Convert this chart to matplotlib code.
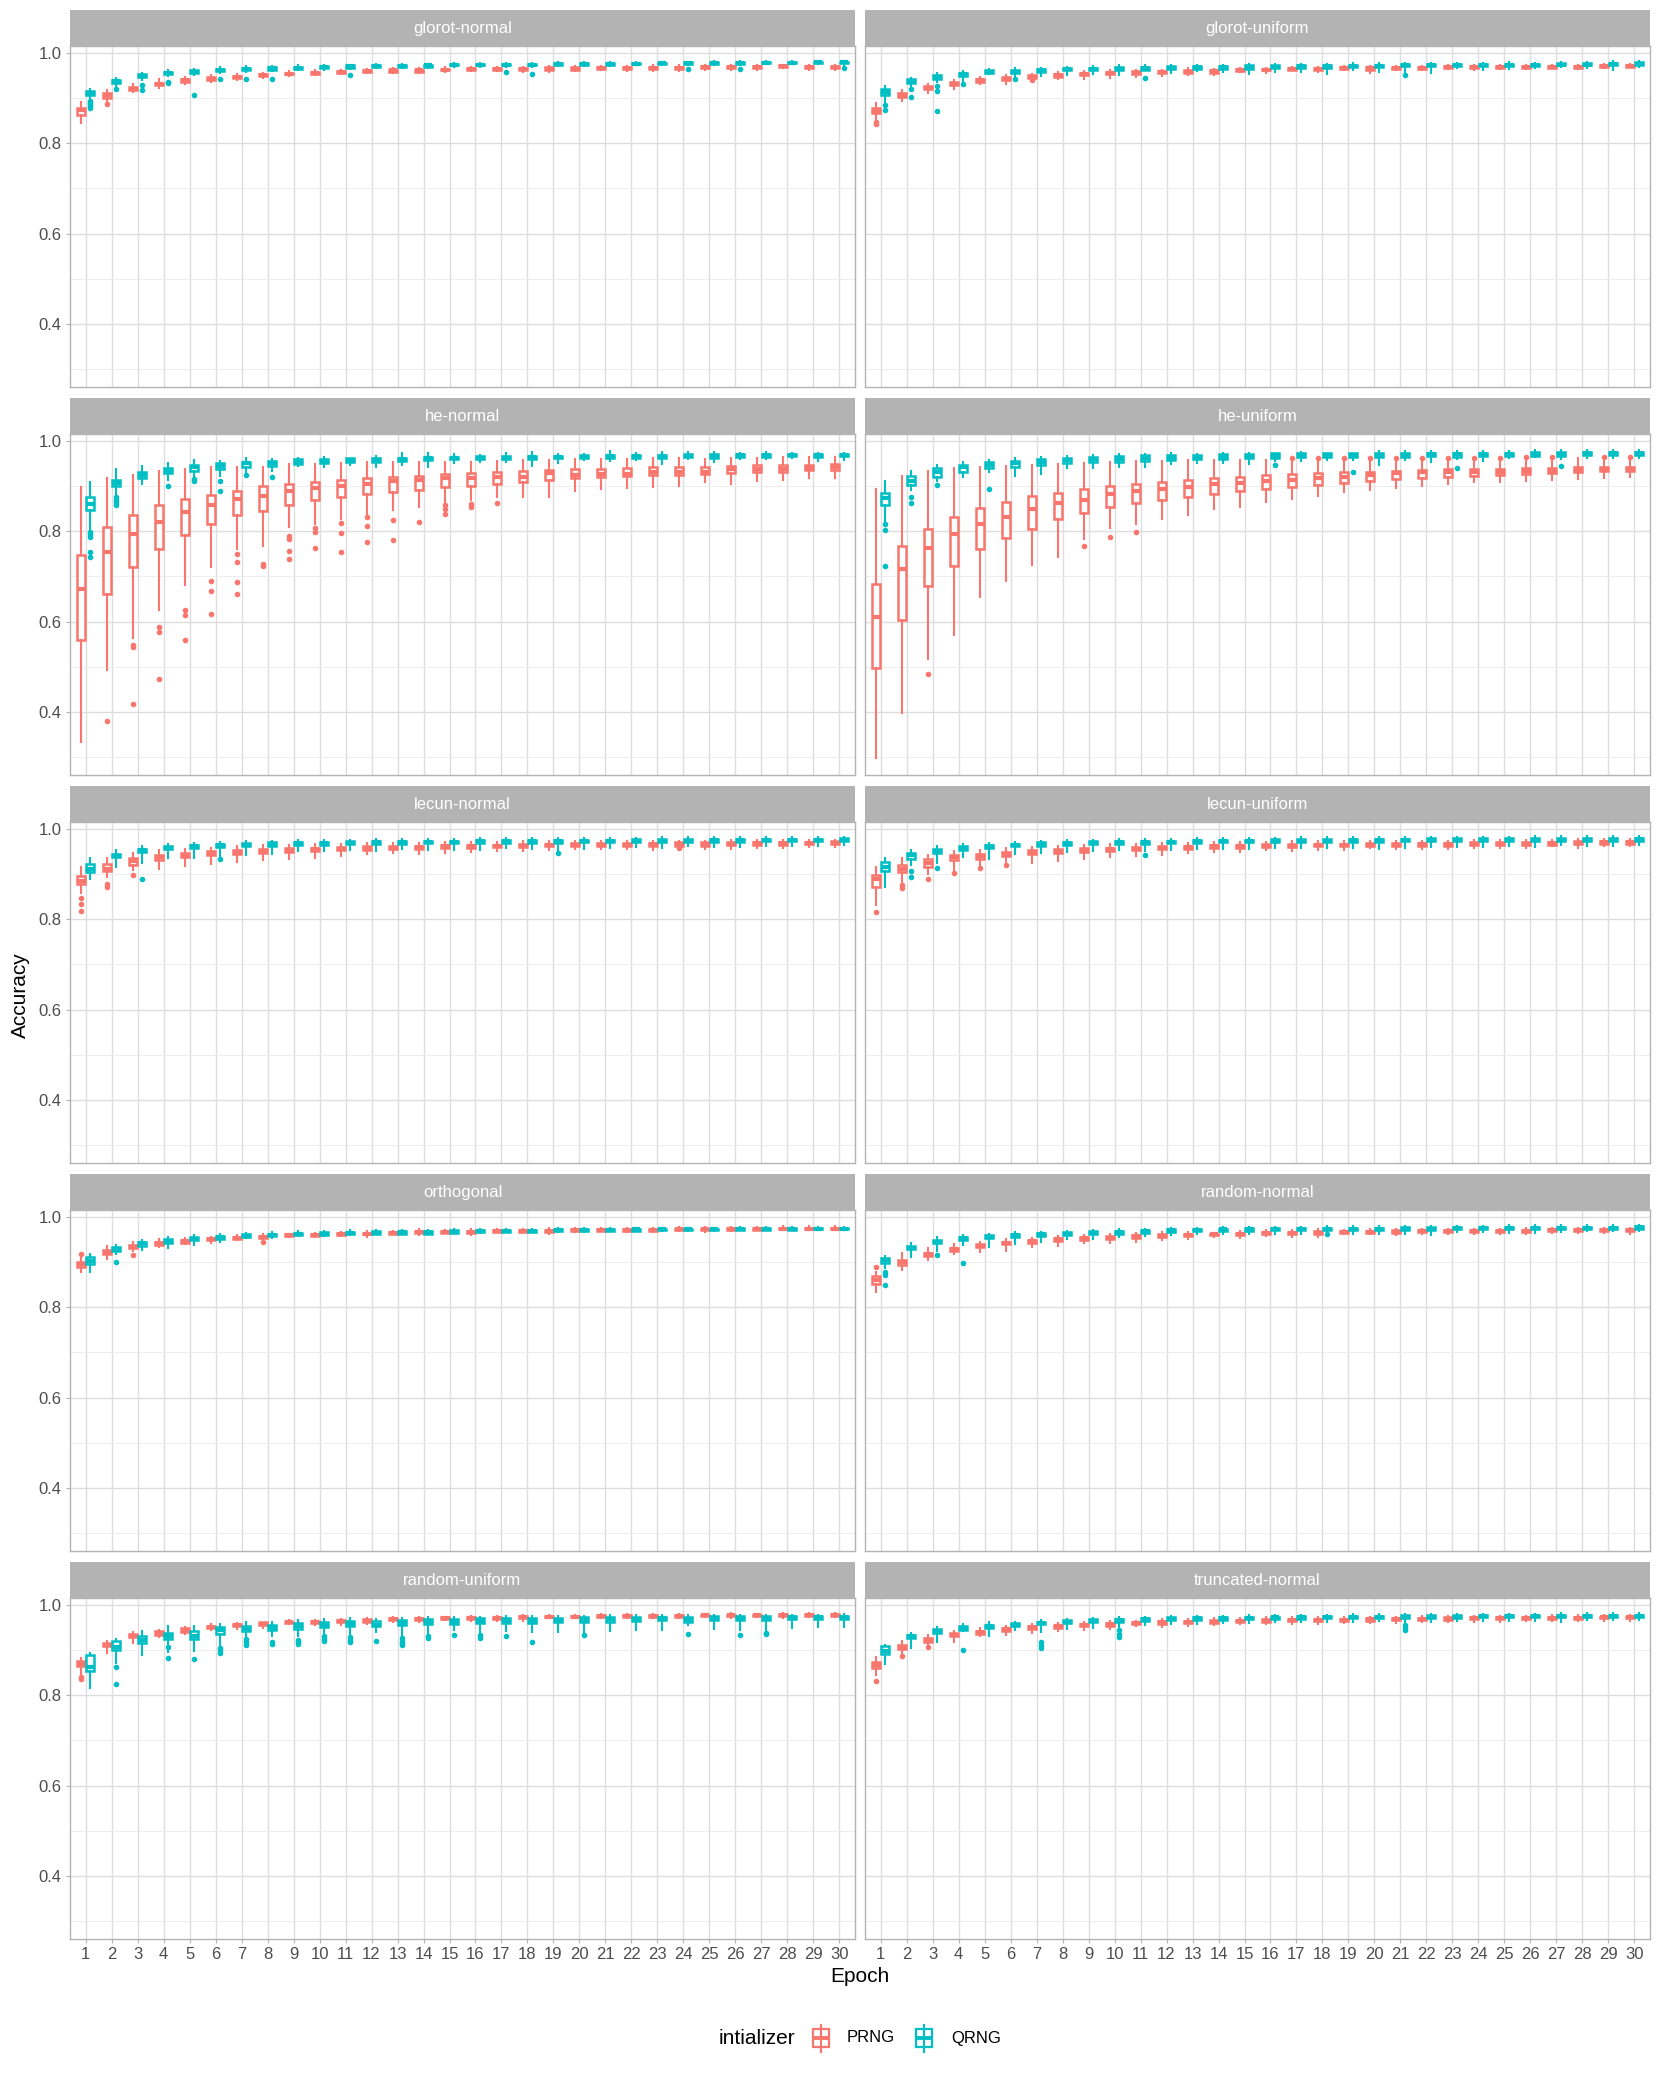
import numpy as np
import matplotlib
matplotlib.use("Agg")
import matplotlib.pyplot as plt
from matplotlib.patches import Rectangle
from matplotlib.lines import Line2D

plt.rcParams['font.family'] = ['Liberation Sans', 'DejaVu Sans']

# --- data: per epoch (whisker low, q1, median, q3, whisker high) ---
EPOCHS = np.arange(1, 31)
PANELS = ["glorot-normal", "glorot-uniform", "he-normal", "he-uniform",
          "lecun-normal", "lecun-uniform", "orthogonal", "random-normal",
          "random-uniform", "truncated-normal"]

GN_PRNG = [(0.845,0.862,0.874,0.878,0.892),(0.890,0.901,0.906,0.910,0.918),(0.913,0.918,0.921,0.925,0.931),(0.922,0.928,0.931,0.934,0.941),(0.931,0.936,0.939,0.942,0.946),
           (0.936,0.940,0.943,0.946,0.950),(0.940,0.944,0.946,0.949,0.952),(0.944,0.948,0.950,0.953,0.956),(0.948,0.952,0.954,0.956,0.959),(0.950,0.954,0.956,0.958,0.961),
           (0.952,0.955,0.957,0.959,0.962),(0.955,0.958,0.960,0.962,0.964),(0.955,0.958,0.961,0.963,0.966),(0.955,0.958,0.961,0.963,0.966),(0.958,0.961,0.963,0.965,0.968),
           (0.960,0.963,0.965,0.967,0.969),(0.959,0.962,0.965,0.967,0.969),(0.958,0.962,0.965,0.967,0.969),(0.958,0.963,0.965,0.968,0.970),(0.959,0.963,0.965,0.968,0.970),
           (0.961,0.965,0.967,0.969,0.971),(0.960,0.965,0.967,0.969,0.971),(0.960,0.965,0.967,0.969,0.972),(0.960,0.965,0.967,0.969,0.972),(0.962,0.966,0.968,0.970,0.972),
           (0.962,0.967,0.969,0.971,0.973),(0.963,0.967,0.969,0.971,0.974),(0.967,0.969,0.971,0.972,0.974),(0.963,0.967,0.969,0.971,0.974),(0.961,0.967,0.969,0.971,0.974)]
GN_QRNG = [(0.897,0.907,0.912,0.916,0.921),(0.925,0.933,0.937,0.940,0.945),(0.940,0.946,0.949,0.952,0.956),(0.948,0.953,0.955,0.958,0.962),(0.950,0.956,0.958,0.961,0.964),
           (0.955,0.960,0.962,0.965,0.968),(0.957,0.963,0.965,0.967,0.970),(0.960,0.963,0.966,0.968,0.971),(0.962,0.965,0.967,0.969,0.972),(0.963,0.966,0.969,0.971,0.973),
           (0.964,0.967,0.970,0.972,0.974),(0.966,0.969,0.971,0.973,0.975),(0.966,0.969,0.971,0.973,0.975),(0.966,0.969,0.972,0.974,0.976),(0.969,0.972,0.974,0.976,0.977),
           (0.969,0.972,0.974,0.976,0.977),(0.968,0.972,0.974,0.976,0.977),(0.969,0.972,0.974,0.976,0.977),(0.971,0.973,0.975,0.977,0.979),(0.971,0.974,0.976,0.977,0.979),
           (0.971,0.974,0.976,0.977,0.979),(0.972,0.975,0.976,0.978,0.979),(0.972,0.975,0.977,0.978,0.980),(0.973,0.976,0.977,0.979,0.980),(0.974,0.976,0.978,0.979,0.981),
           (0.973,0.976,0.978,0.979,0.981),(0.975,0.977,0.978,0.979,0.981),(0.975,0.977,0.978,0.980,0.981),(0.975,0.977,0.979,0.980,0.981),(0.972,0.977,0.979,0.980,0.982)]
GN_PRNG_OUT = [(2,0.886)]
GN_QRNG_OUT = [(1,0.894),(1,0.890),(1,0.886),(1,0.882),(1,0.878),(2,0.919),(3,0.929),(3,0.918),(4,0.936),(4,0.933),(5,0.907),
               (6,0.942),(7,0.941),(8,0.943),(11,0.951),(17,0.958),(18,0.954),(24,0.965),(26,0.965),(30,0.967)]

GU_PRNG = [(0.853,0.866,0.872,0.878,0.889),(0.894,0.902,0.906,0.910,0.918),(0.912,0.920,0.923,0.926,0.932),(0.921,0.929,0.932,0.936,0.940),(0.930,0.936,0.940,0.943,0.947),
           (0.932,0.939,0.942,0.946,0.950),(0.942,0.944,0.947,0.950,0.953),(0.941,0.947,0.950,0.953,0.957),(0.942,0.950,0.953,0.955,0.960),(0.944,0.952,0.955,0.958,0.961),
           (0.946,0.953,0.956,0.959,0.962),(0.948,0.955,0.958,0.960,0.963),(0.950,0.956,0.958,0.962,0.966),(0.950,0.956,0.959,0.961,0.964),(0.958,0.960,0.962,0.964,0.966),
           (0.956,0.961,0.963,0.965,0.967),(0.961,0.962,0.964,0.966,0.968),(0.958,0.962,0.964,0.966,0.968),(0.961,0.964,0.966,0.968,0.970),(0.955,0.963,0.966,0.968,0.971),
           (0.963,0.965,0.967,0.969,0.971),(0.962,0.965,0.967,0.969,0.971),(0.964,0.966,0.968,0.970,0.972),(0.962,0.966,0.968,0.970,0.972),(0.965,0.967,0.969,0.971,0.973),
           (0.965,0.967,0.969,0.971,0.973),(0.966,0.967,0.969,0.971,0.973),(0.965,0.967,0.969,0.971,0.973),(0.966,0.968,0.970,0.972,0.975),(0.968,0.969,0.971,0.973,0.975)]
GU_QRNG = [(0.888,0.907,0.913,0.920,0.926),(0.925,0.934,0.938,0.941,0.945),(0.935,0.941,0.946,0.950,0.955),(0.938,0.949,0.952,0.955,0.960),(0.952,0.955,0.958,0.961,0.964),
           (0.946,0.955,0.958,0.962,0.966),(0.949,0.957,0.961,0.964,0.967),(0.951,0.961,0.964,0.966,0.969),(0.952,0.961,0.964,0.967,0.970),(0.950,0.962,0.965,0.968,0.972),
           (0.961,0.963,0.966,0.969,0.972),(0.955,0.964,0.967,0.970,0.973),(0.960,0.965,0.968,0.970,0.973),(0.957,0.965,0.968,0.971,0.974),(0.953,0.965,0.968,0.972,0.975),
           (0.958,0.966,0.969,0.972,0.975),(0.958,0.967,0.970,0.972,0.975),(0.952,0.967,0.970,0.973,0.976),(0.962,0.969,0.971,0.974,0.977),(0.957,0.969,0.971,0.974,0.977),
           (0.955,0.970,0.972,0.975,0.978),(0.955,0.970,0.972,0.975,0.978),(0.966,0.970,0.973,0.975,0.978),(0.963,0.970,0.973,0.975,0.978),(0.965,0.971,0.974,0.976,0.980),
           (0.967,0.971,0.973,0.976,0.978),(0.969,0.972,0.974,0.977,0.979),(0.966,0.972,0.974,0.977,0.979),(0.963,0.972,0.975,0.978,0.981),(0.969,0.973,0.976,0.979,0.982)]
GU_PRNG_OUT = [(1,0.847),(1,0.843),(7,0.939)]
GU_QRNG_OUT = [(1,0.884),(1,0.874),(2,0.921),(2,0.903),(3,0.926),(3,0.916),(3,0.871),(4,0.932),(6,0.943),(11,0.945),(21,0.951)]

HN_PRNG = [(0.333,0.559,0.673,0.748,0.897),(0.494,0.662,0.755,0.809,0.918),(0.563,0.722,0.793,0.836,0.925),(0.625,0.761,0.821,0.858,0.934),(0.681,0.792,0.842,0.871,0.937),
           (0.720,0.815,0.858,0.881,0.941),(0.761,0.835,0.871,0.890,0.943),(0.767,0.845,0.879,0.899,0.943),(0.809,0.858,0.890,0.905,0.949),(0.816,0.869,0.896,0.908,0.949),
           (0.827,0.875,0.899,0.914,0.950),(0.835,0.882,0.904,0.918,0.952),(0.846,0.886,0.910,0.919,0.954),(0.853,0.891,0.913,0.923,0.954),(0.864,0.897,0.917,0.926,0.954),
           (0.869,0.901,0.917,0.928,0.954),(0.875,0.905,0.919,0.932,0.956),(0.876,0.909,0.920,0.933,0.957),(0.875,0.913,0.928,0.936,0.957),(0.890,0.918,0.925,0.938,0.960),
           (0.893,0.920,0.926,0.938,0.960),(0.895,0.922,0.927,0.940,0.960),(0.897,0.924,0.932,0.941,0.961),(0.899,0.925,0.930,0.942,0.961),(0.908,0.927,0.932,0.943,0.960),
           (0.904,0.929,0.937,0.944,0.963),(0.912,0.931,0.937,0.946,0.963),(0.913,0.932,0.937,0.946,0.965),(0.918,0.935,0.939,0.947,0.965),(0.918,0.935,0.941,0.949,0.965)]
HN_QRNG = [(0.805,0.846,0.860,0.875,0.908),(0.883,0.899,0.906,0.913,0.937),(0.904,0.917,0.924,0.932,0.945),(0.913,0.928,0.934,0.940,0.951),(0.919,0.934,0.941,0.946,0.957),
           (0.923,0.937,0.945,0.951,0.956),(0.930,0.943,0.950,0.954,0.961),(0.934,0.945,0.951,0.955,0.960),(0.945,0.948,0.954,0.959,0.963),(0.941,0.951,0.956,0.960,0.965),
           (0.947,0.952,0.957,0.961,0.963),(0.943,0.954,0.958,0.962,0.967),(0.947,0.956,0.960,0.963,0.973),(0.941,0.957,0.961,0.965,0.972),(0.951,0.959,0.962,0.965,0.971),
           (0.954,0.960,0.963,0.966,0.969),(0.952,0.960,0.963,0.966,0.972),(0.945,0.960,0.964,0.967,0.975),(0.950,0.961,0.964,0.967,0.971),(0.958,0.962,0.965,0.968,0.971),
           (0.956,0.963,0.966,0.969,0.978),(0.958,0.963,0.966,0.969,0.973),(0.949,0.962,0.966,0.969,0.976),(0.960,0.964,0.967,0.970,0.976),(0.954,0.963,0.967,0.970,0.976),
           (0.960,0.965,0.968,0.971,0.974),(0.959,0.965,0.968,0.971,0.975),(0.961,0.966,0.968,0.971,0.974),(0.956,0.965,0.968,0.971,0.974),(0.958,0.966,0.969,0.971,0.974)]
HN_PRNG_OUT = [(2,0.381),(3,0.548),(3,0.544),(3,0.419),(4,0.588),(4,0.577),(4,0.474),(5,0.626),(5,0.614),(5,0.560),
               (6,0.690),(6,0.668),(6,0.616),(7,0.750),(7,0.732),(7,0.688),(7,0.662),(8,0.728),(8,0.724),
               (9,0.790),(9,0.783),(9,0.757),(9,0.739),(10,0.807),(10,0.798),(10,0.763),(11,0.818),(11,0.797),(11,0.754),
               (12,0.831),(12,0.812),(12,0.777),(13,0.825),(13,0.781),(14,0.820),(15,0.859),(15,0.849),(15,0.838),
               (16,0.860),(16,0.854),(17,0.862)]
HN_QRNG_OUT = [(1,0.799),(1,0.794),(1,0.787),(1,0.754),(1,0.744),(2,0.875),(2,0.869),(2,0.864),(2,0.859),(4,0.901),
               (5,0.915),(5,0.912),(6,0.910),(6,0.890),(7,0.925),(8,0.919)]

HU_PRNG = [(0.298,0.498,0.610,0.684,0.893),(0.397,0.603,0.717,0.767,0.923),(0.518,0.680,0.763,0.804,0.934),(0.570,0.724,0.794,0.831,0.939),(0.654,0.760,0.815,0.851,0.941),
           (0.689,0.785,0.832,0.864,0.945),(0.726,0.805,0.849,0.877,0.946),(0.744,0.826,0.862,0.884,0.949),(0.783,0.840,0.870,0.893,0.951),(0.807,0.854,0.882,0.899,0.952),
           (0.816,0.862,0.888,0.904,0.956),(0.826,0.870,0.893,0.909,0.956),(0.836,0.876,0.897,0.913,0.957),(0.849,0.882,0.904,0.918,0.957),(0.854,0.889,0.907,0.921,0.957),
           (0.864,0.894,0.912,0.925,0.957),(0.871,0.898,0.913,0.926,0.958),(0.877,0.903,0.918,0.929,0.958),(0.886,0.907,0.921,0.930,0.959),(0.891,0.911,0.925,0.932,0.959),
           (0.896,0.915,0.928,0.933,0.960),(0.899,0.918,0.932,0.935,0.960),(0.904,0.920,0.932,0.937,0.958),(0.908,0.922,0.932,0.937,0.960),(0.908,0.924,0.931,0.937,0.960),
           (0.912,0.927,0.934,0.940,0.960),(0.914,0.928,0.934,0.940,0.961),(0.915,0.930,0.936,0.942,0.961),(0.918,0.933,0.938,0.943,0.961),(0.919,0.933,0.938,0.943,0.962)]
HU_QRNG = [(0.818,0.858,0.873,0.885,0.910),(0.891,0.903,0.910,0.923,0.934),(0.912,0.921,0.930,0.939,0.946),(0.919,0.932,0.941,0.947,0.954),(0.930,0.940,0.947,0.952,0.957),
           (0.923,0.943,0.950,0.956,0.961),(0.926,0.947,0.954,0.960,0.965),(0.939,0.951,0.957,0.963,0.967),(0.939,0.954,0.959,0.965,0.968),(0.943,0.954,0.960,0.966,0.971),
           (0.943,0.955,0.961,0.968,0.971),(0.949,0.958,0.962,0.968,0.972),(0.951,0.959,0.963,0.969,0.971),(0.951,0.960,0.965,0.970,0.974),(0.949,0.962,0.966,0.971,0.974),
           (0.956,0.963,0.967,0.972,0.974),(0.956,0.964,0.968,0.972,0.976),(0.957,0.965,0.969,0.972,0.974),(0.957,0.964,0.968,0.972,0.974),(0.947,0.964,0.969,0.974,0.978),
           (0.957,0.965,0.969,0.974,0.978),(0.952,0.966,0.970,0.974,0.978),(0.960,0.965,0.970,0.974,0.978),(0.956,0.966,0.970,0.974,0.978),(0.962,0.966,0.970,0.974,0.978),
           (0.964,0.967,0.971,0.975,0.979),(0.960,0.967,0.971,0.975,0.979),(0.963,0.968,0.972,0.975,0.979),(0.962,0.968,0.972,0.975,0.979),(0.963,0.968,0.972,0.975,0.979)]
HU_PRNG_OUT = [(3,0.484),(9,0.768),(10,0.787),(11,0.799),(17,0.961),(18,0.961),(19,0.962),(20,0.962),(21,0.963),(22,0.963),
               (23,0.962),(24,0.963),(25,0.963),(26,0.964),(27,0.964),(29,0.964),(30,0.965)]
HU_QRNG_OUT = [(1,0.815),(1,0.803),(1,0.723),(2,0.875),(2,0.862),(3,0.902),(5,0.893),(16,0.946),(19,0.930),(23,0.939),(27,0.945)]

LN_PRNG = [(0.857,0.879,0.884,0.896,0.916),(0.894,0.907,0.911,0.923,0.935),(0.909,0.921,0.928,0.935,0.947),(0.912,0.931,0.937,0.942,0.952),(0.917,0.937,0.943,0.947,0.955),
           (0.922,0.941,0.946,0.950,0.958),(0.926,0.944,0.949,0.953,0.962),(0.930,0.946,0.950,0.955,0.964),(0.933,0.949,0.953,0.957,0.965),(0.935,0.951,0.955,0.958,0.966),
           (0.940,0.952,0.956,0.960,0.967),(0.944,0.954,0.957,0.961,0.968),(0.946,0.955,0.958,0.962,0.968),(0.945,0.956,0.959,0.963,0.969),(0.947,0.957,0.961,0.964,0.970),
           (0.948,0.958,0.962,0.965,0.971),(0.950,0.960,0.962,0.965,0.971),(0.951,0.960,0.963,0.967,0.972),(0.952,0.961,0.964,0.967,0.972),(0.955,0.962,0.965,0.968,0.973),
           (0.955,0.962,0.965,0.968,0.973),(0.955,0.962,0.965,0.969,0.973),(0.953,0.962,0.966,0.969,0.974),(0.953,0.963,0.966,0.970,0.974),(0.956,0.963,0.967,0.970,0.974),
           (0.956,0.964,0.967,0.970,0.975),(0.957,0.965,0.968,0.971,0.975),(0.957,0.965,0.968,0.971,0.975),(0.959,0.966,0.968,0.971,0.975),(0.959,0.966,0.969,0.972,0.975)]
LN_QRNG = [(0.890,0.905,0.912,0.923,0.935),(0.916,0.937,0.940,0.945,0.952),(0.924,0.948,0.952,0.955,0.961),(0.935,0.955,0.958,0.961,0.966),(0.935,0.958,0.962,0.964,0.969),
           (0.937,0.960,0.964,0.966,0.970),(0.943,0.961,0.965,0.968,0.972),(0.944,0.963,0.967,0.970,0.974),(0.951,0.965,0.968,0.971,0.975),(0.950,0.965,0.969,0.971,0.975),
           (0.953,0.966,0.969,0.972,0.976),(0.951,0.967,0.970,0.973,0.977),(0.955,0.967,0.970,0.973,0.977),(0.952,0.968,0.971,0.974,0.978),(0.953,0.968,0.971,0.974,0.978),
           (0.954,0.969,0.972,0.975,0.979),(0.957,0.969,0.972,0.976,0.979),(0.956,0.969,0.972,0.976,0.979),(0.952,0.969,0.973,0.976,0.980),(0.956,0.970,0.973,0.976,0.980),
           (0.958,0.970,0.973,0.976,0.980),(0.959,0.970,0.974,0.977,0.980),(0.958,0.971,0.974,0.977,0.981),(0.961,0.971,0.974,0.977,0.981),(0.960,0.971,0.975,0.978,0.981),
           (0.959,0.971,0.975,0.978,0.981),(0.961,0.972,0.975,0.978,0.982),(0.963,0.972,0.975,0.978,0.982),(0.961,0.972,0.975,0.978,0.982),(0.964,0.973,0.976,0.979,0.982)]
LN_PRNG_OUT = [(1,0.847),(1,0.833),(1,0.818),(2,0.879),(2,0.872),(3,0.898),(24,0.957)]
LN_QRNG_OUT = [(3,0.888),(6,0.933),(19,0.946)]

LU_PRNG = [(0.831,0.872,0.888,0.898,0.915),(0.879,0.904,0.910,0.921,0.935),(0.900,0.916,0.924,0.934,0.943),(0.907,0.931,0.937,0.941,0.950),(0.914,0.934,0.940,0.945,0.953),
           (0.925,0.940,0.945,0.949,0.957),(0.925,0.944,0.948,0.952,0.960),(0.929,0.946,0.950,0.955,0.962),(0.934,0.949,0.953,0.957,0.964),(0.937,0.951,0.955,0.958,0.966),
           (0.939,0.952,0.956,0.960,0.967),(0.943,0.955,0.958,0.962,0.968),(0.946,0.956,0.960,0.963,0.969),(0.948,0.957,0.961,0.964,0.970),(0.949,0.958,0.961,0.965,0.971),
           (0.952,0.959,0.962,0.966,0.971),(0.951,0.960,0.963,0.966,0.972),(0.953,0.961,0.964,0.967,0.972),(0.953,0.961,0.964,0.967,0.973),(0.957,0.962,0.965,0.968,0.973),
           (0.956,0.962,0.965,0.969,0.974),(0.955,0.962,0.966,0.969,0.974),(0.956,0.962,0.966,0.969,0.974),(0.958,0.964,0.967,0.970,0.975),(0.958,0.964,0.967,0.970,0.975),
           (0.957,0.964,0.967,0.970,0.975),(0.961,0.965,0.968,0.971,0.976),(0.958,0.966,0.969,0.972,0.977),(0.962,0.967,0.970,0.973,0.977),(0.961,0.967,0.970,0.973,0.978)]
LU_QRNG = [(0.872,0.906,0.916,0.927,0.936),(0.920,0.934,0.941,0.947,0.954),(0.925,0.946,0.950,0.955,0.963),(0.938,0.954,0.958,0.961,0.966),(0.934,0.958,0.962,0.964,0.969),
           (0.944,0.961,0.964,0.967,0.971),(0.947,0.963,0.967,0.970,0.974),(0.949,0.965,0.968,0.971,0.975),(0.951,0.966,0.969,0.972,0.976),(0.952,0.967,0.970,0.973,0.977),
           (0.950,0.967,0.970,0.973,0.977),(0.954,0.968,0.971,0.974,0.978),(0.955,0.969,0.972,0.975,0.979),(0.956,0.970,0.973,0.976,0.979),(0.955,0.970,0.973,0.976,0.979),
           (0.957,0.970,0.973,0.977,0.980),(0.957,0.971,0.974,0.977,0.981),(0.958,0.971,0.974,0.977,0.981),(0.958,0.971,0.975,0.978,0.981),(0.956,0.971,0.975,0.978,0.981),
           (0.957,0.972,0.975,0.978,0.982),(0.959,0.972,0.975,0.979,0.982),(0.960,0.972,0.975,0.979,0.982),(0.960,0.973,0.976,0.979,0.982),(0.961,0.973,0.976,0.979,0.982),
           (0.960,0.973,0.976,0.979,0.983),(0.964,0.973,0.976,0.979,0.983),(0.962,0.973,0.976,0.979,0.983),(0.963,0.973,0.976,0.979,0.983),(0.965,0.974,0.977,0.980,0.983)]
LU_PRNG_OUT = [(1,0.816),(2,0.876),(2,0.868),(3,0.890),(4,0.903),(5,0.913),(6,0.920)]
LU_QRNG_OUT = [(2,0.907),(2,0.894),(3,0.914),(11,0.942)]

OR_PRNG = [(0.877,0.890,0.895,0.901,0.912),(0.907,0.917,0.922,0.926,0.935),(0.924,0.931,0.934,0.937,0.944),(0.933,0.937,0.941,0.945,0.950),(0.940,0.943,0.946,0.949,0.953),
           (0.942,0.948,0.950,0.953,0.956),(0.948,0.951,0.953,0.956,0.960),(0.948,0.953,0.955,0.958,0.961),(0.955,0.957,0.959,0.961,0.963),(0.956,0.958,0.960,0.962,0.965),
           (0.958,0.960,0.962,0.965,0.967),(0.955,0.961,0.963,0.965,0.968),(0.961,0.962,0.964,0.966,0.968),(0.960,0.964,0.966,0.968,0.973),(0.964,0.965,0.967,0.969,0.971),
           (0.960,0.965,0.967,0.969,0.972),(0.966,0.967,0.969,0.971,0.973),(0.966,0.967,0.969,0.971,0.973),(0.963,0.967,0.969,0.971,0.975),(0.967,0.968,0.970,0.973,0.976),
           (0.968,0.969,0.971,0.973,0.975),(0.966,0.969,0.971,0.973,0.976),(0.966,0.969,0.971,0.973,0.976),(0.968,0.970,0.972,0.974,0.977),(0.966,0.970,0.972,0.974,0.977),
           (0.968,0.971,0.973,0.975,0.978),(0.970,0.971,0.973,0.975,0.977),(0.970,0.972,0.974,0.976,0.979),(0.970,0.972,0.974,0.976,0.979),(0.970,0.972,0.974,0.976,0.979)]
OR_QRNG = [(0.879,0.896,0.903,0.910,0.918),(0.917,0.924,0.929,0.933,0.937),(0.926,0.936,0.941,0.944,0.949),(0.932,0.943,0.947,0.951,0.956),(0.938,0.948,0.951,0.955,0.960),
           (0.945,0.951,0.955,0.958,0.962),(0.952,0.955,0.958,0.961,0.964),(0.952,0.957,0.960,0.963,0.966),(0.957,0.959,0.962,0.965,0.968),(0.958,0.960,0.963,0.966,0.969),
           (0.960,0.961,0.964,0.967,0.970),(0.961,0.962,0.965,0.968,0.970),(0.962,0.963,0.966,0.968,0.971),(0.962,0.963,0.966,0.968,0.971),(0.964,0.965,0.967,0.970,0.972),
           (0.965,0.966,0.969,0.971,0.973),(0.966,0.967,0.969,0.971,0.974),(0.966,0.967,0.969,0.971,0.974),(0.967,0.968,0.971,0.973,0.975),(0.967,0.969,0.971,0.973,0.975),
           (0.968,0.969,0.971,0.973,0.975),(0.968,0.969,0.972,0.974,0.976),(0.969,0.970,0.972,0.974,0.976),(0.969,0.970,0.972,0.974,0.976),(0.969,0.970,0.972,0.974,0.976),
           (0.970,0.971,0.973,0.975,0.977),(0.970,0.971,0.973,0.975,0.977),(0.970,0.971,0.973,0.975,0.977),(0.971,0.972,0.974,0.976,0.977),(0.971,0.972,0.974,0.976,0.978)]
OR_PRNG_OUT = [(1,0.918),(3,0.916),(8,0.944)]
OR_QRNG_OUT = [(2,0.901)]

RN_PRNG = [(0.833,0.852,0.861,0.868,0.879),(0.883,0.894,0.900,0.905,0.920),(0.905,0.913,0.917,0.921,0.931),(0.918,0.925,0.929,0.932,0.939),(0.923,0.933,0.936,0.939,0.944),
           (0.925,0.939,0.942,0.945,0.951),(0.934,0.943,0.946,0.949,0.954),(0.936,0.946,0.950,0.953,0.957),(0.941,0.948,0.952,0.955,0.959),(0.943,0.951,0.954,0.957,0.961),
           (0.945,0.953,0.957,0.960,0.964),(0.948,0.955,0.958,0.961,0.966),(0.950,0.957,0.959,0.962,0.967),(0.956,0.959,0.961,0.963,0.965),(0.954,0.960,0.962,0.964,0.968),
           (0.958,0.962,0.964,0.967,0.971),(0.955,0.962,0.965,0.967,0.971),(0.956,0.962,0.965,0.968,0.972),(0.962,0.964,0.966,0.968,0.970),(0.962,0.964,0.967,0.969,0.972),
           (0.959,0.965,0.967,0.970,0.974),(0.961,0.966,0.968,0.970,0.974),(0.961,0.966,0.968,0.970,0.973),(0.962,0.966,0.968,0.971,0.974),(0.962,0.966,0.968,0.971,0.974),
           (0.962,0.967,0.969,0.971,0.975),(0.965,0.968,0.970,0.972,0.975),(0.964,0.968,0.970,0.972,0.975),(0.964,0.968,0.970,0.972,0.975),(0.963,0.968,0.971,0.973,0.976)]
RN_QRNG = [(0.887,0.898,0.904,0.909,0.913),(0.912,0.928,0.932,0.936,0.943),(0.924,0.941,0.945,0.949,0.956),(0.937,0.948,0.952,0.955,0.959),(0.933,0.952,0.955,0.959,0.963),
           (0.940,0.955,0.959,0.962,0.966),(0.944,0.957,0.961,0.964,0.967),(0.950,0.960,0.963,0.966,0.969),(0.950,0.962,0.965,0.968,0.971),(0.956,0.963,0.967,0.969,0.972),
           (0.958,0.965,0.968,0.971,0.974),(0.960,0.967,0.970,0.972,0.975),(0.961,0.968,0.971,0.973,0.976),(0.962,0.969,0.972,0.974,0.977),(0.961,0.969,0.972,0.975,0.977),
           (0.961,0.970,0.973,0.975,0.978),(0.962,0.971,0.973,0.976,0.978),(0.966,0.971,0.974,0.976,0.979),(0.963,0.971,0.974,0.976,0.979),(0.963,0.971,0.974,0.976,0.979),
           (0.961,0.971,0.974,0.977,0.980),(0.959,0.971,0.974,0.977,0.980),(0.966,0.972,0.975,0.977,0.980),(0.966,0.972,0.975,0.978,0.980),(0.965,0.972,0.975,0.978,0.981),
           (0.965,0.972,0.975,0.978,0.981),(0.966,0.973,0.976,0.978,0.981),(0.969,0.973,0.976,0.978,0.981),(0.969,0.973,0.976,0.978,0.981),(0.969,0.974,0.977,0.979,0.982)]
RN_PRNG_OUT = [(1,0.889)]
RN_QRNG_OUT = [(1,0.879),(1,0.872),(1,0.850),(3,0.915),(4,0.898),(18,0.962)]

RU_PRNG = [(0.848,0.864,0.870,0.876,0.883),(0.893,0.908,0.912,0.916,0.920),(0.915,0.928,0.932,0.935,0.940),(0.929,0.934,0.937,0.941,0.945),(0.935,0.940,0.944,0.948,0.951),
           (0.944,0.948,0.951,0.954,0.957),(0.946,0.952,0.955,0.957,0.960),(0.949,0.955,0.958,0.961,0.963),(0.958,0.959,0.961,0.963,0.966),(0.956,0.960,0.962,0.964,0.967),
           (0.955,0.962,0.964,0.966,0.969),(0.957,0.963,0.965,0.968,0.971),(0.963,0.966,0.968,0.970,0.973),(0.962,0.967,0.969,0.971,0.974),(0.966,0.968,0.970,0.972,0.974),
           (0.965,0.969,0.971,0.973,0.975),(0.965,0.969,0.971,0.973,0.975),(0.964,0.971,0.973,0.975,0.977),(0.971,0.972,0.974,0.975,0.977),(0.970,0.972,0.974,0.976,0.978),
           (0.970,0.973,0.975,0.977,0.979),(0.971,0.974,0.975,0.977,0.979),(0.970,0.974,0.975,0.977,0.979),(0.970,0.974,0.976,0.978,0.980),(0.972,0.975,0.977,0.978,0.980),
           (0.970,0.975,0.977,0.978,0.981),(0.972,0.975,0.977,0.978,0.980),(0.971,0.976,0.978,0.979,0.981),(0.974,0.976,0.978,0.980,0.982),(0.974,0.976,0.978,0.980,0.982)]
RU_QRNG = [(0.817,0.854,0.863,0.889,0.893),(0.872,0.899,0.907,0.919,0.924),(0.888,0.916,0.922,0.932,0.942),(0.896,0.925,0.930,0.938,0.952),(0.897,0.925,0.931,0.941,0.953),
           (0.911,0.936,0.944,0.950,0.957),(0.930,0.942,0.947,0.952,0.962),(0.930,0.945,0.949,0.955,0.963),(0.930,0.947,0.952,0.960,0.967),(0.935,0.950,0.955,0.962,0.968),
           (0.935,0.952,0.957,0.964,0.970),(0.940,0.952,0.956,0.964,0.969),(0.930,0.955,0.960,0.966,0.971),(0.937,0.957,0.962,0.968,0.972),(0.945,0.957,0.963,0.969,0.973),
           (0.938,0.959,0.964,0.970,0.974),(0.943,0.960,0.965,0.971,0.975),(0.940,0.960,0.965,0.971,0.975),(0.940,0.961,0.966,0.971,0.975),(0.940,0.962,0.967,0.972,0.976),
           (0.943,0.963,0.968,0.973,0.977),(0.944,0.964,0.968,0.973,0.977),(0.945,0.966,0.970,0.974,0.977),(0.955,0.961,0.967,0.973,0.977),(0.947,0.966,0.970,0.975,0.978),
           (0.945,0.967,0.971,0.975,0.978),(0.945,0.967,0.971,0.975,0.978),(0.948,0.969,0.972,0.975,0.978),(0.950,0.969,0.972,0.975,0.978),(0.950,0.969,0.973,0.976,0.979)]
RU_PRNG_OUT = [(1,0.841),(1,0.836)]
RU_QRNG_OUT = [(2,0.863),(2,0.824),(4,0.907),(4,0.883),(5,0.881),(6,0.905),(6,0.900),(6,0.894),(7,0.924),(7,0.917),(7,0.910),
               (8,0.917),(8,0.913),(9,0.923),(9,0.917),(9,0.913),(10,0.930),(10,0.924),(10,0.920),(11,0.928),(11,0.923),(11,0.917),
               (12,0.921),(13,0.926),(13,0.921),(13,0.916),(13,0.912),(14,0.930),(14,0.926),(15,0.933),(16,0.933),(16,0.927),
               (17,0.930),(18,0.918),(20,0.933),(24,0.936),(26,0.933),(27,0.938),(27,0.935)]

TN_PRNG = [(0.844,0.860,0.866,0.873,0.885),(0.890,0.902,0.907,0.912,0.920),(0.909,0.918,0.922,0.927,0.934),(0.917,0.930,0.933,0.937,0.943),(0.931,0.936,0.940,0.943,0.948),
           (0.934,0.943,0.946,0.949,0.953),(0.937,0.947,0.950,0.953,0.957),(0.942,0.949,0.952,0.955,0.959),(0.944,0.952,0.955,0.958,0.962),(0.946,0.954,0.957,0.960,0.964),
           (0.952,0.957,0.959,0.962,0.965),(0.951,0.958,0.961,0.964,0.968),(0.953,0.959,0.962,0.965,0.969),(0.955,0.960,0.963,0.966,0.970),(0.958,0.962,0.964,0.967,0.970),
           (0.957,0.963,0.965,0.968,0.972),(0.957,0.964,0.966,0.968,0.972),(0.958,0.964,0.967,0.969,0.973),(0.960,0.965,0.967,0.969,0.972),(0.959,0.965,0.968,0.970,0.974),
           (0.960,0.966,0.968,0.970,0.974),(0.961,0.967,0.969,0.971,0.975),(0.963,0.967,0.969,0.972,0.975),(0.962,0.968,0.970,0.972,0.976),(0.963,0.968,0.970,0.972,0.976),
           (0.964,0.969,0.971,0.973,0.976),(0.964,0.969,0.971,0.973,0.977),(0.964,0.969,0.971,0.973,0.977),(0.965,0.970,0.972,0.974,0.977),(0.964,0.970,0.972,0.974,0.977)]
TN_QRNG = [(0.868,0.891,0.897,0.909,0.912),(0.905,0.926,0.930,0.934,0.937),(0.918,0.938,0.942,0.946,0.950),(0.941,0.945,0.949,0.953,0.957),(0.930,0.949,0.953,0.956,0.961),
           (0.945,0.953,0.956,0.960,0.963),(0.940,0.957,0.960,0.963,0.966),(0.946,0.960,0.963,0.966,0.969),(0.949,0.962,0.965,0.968,0.971),(0.950,0.963,0.966,0.969,0.972),
           (0.956,0.965,0.968,0.971,0.974),(0.958,0.966,0.969,0.972,0.975),(0.957,0.967,0.970,0.972,0.975),(0.960,0.967,0.970,0.973,0.976),(0.960,0.968,0.971,0.974,0.977),
           (0.961,0.968,0.972,0.974,0.977),(0.961,0.969,0.972,0.975,0.978),(0.962,0.970,0.973,0.976,0.978),(0.961,0.970,0.973,0.976,0.979),(0.964,0.971,0.974,0.976,0.979),
           (0.960,0.971,0.974,0.977,0.979),(0.962,0.971,0.974,0.977,0.979),(0.964,0.971,0.974,0.977,0.980),(0.964,0.972,0.975,0.977,0.980),(0.964,0.972,0.975,0.978,0.980),
           (0.964,0.972,0.975,0.978,0.980),(0.962,0.973,0.975,0.978,0.981),(0.966,0.973,0.976,0.978,0.981),(0.966,0.973,0.976,0.978,0.981),(0.967,0.973,0.976,0.978,0.981)]
TN_PRNG_OUT = [(1,0.832),(2,0.887),(3,0.907)]
TN_QRNG_OUT = [(4,0.900),(7,0.917),(7,0.910),(7,0.905),(10,0.944),(10,0.936),(10,0.928),(21,0.955),(21,0.949),(21,0.944)]

PRNG_DATA = [GN_PRNG, GU_PRNG, HN_PRNG, HU_PRNG, LN_PRNG, LU_PRNG, OR_PRNG, RN_PRNG, RU_PRNG, TN_PRNG]
QRNG_DATA = [GN_QRNG, GU_QRNG, HN_QRNG, HU_QRNG, LN_QRNG, LU_QRNG, OR_QRNG, RN_QRNG, RU_QRNG, TN_QRNG]
PRNG_OUT = [GN_PRNG_OUT, GU_PRNG_OUT, HN_PRNG_OUT, HU_PRNG_OUT, LN_PRNG_OUT, LU_PRNG_OUT, OR_PRNG_OUT, RN_PRNG_OUT, RU_PRNG_OUT, TN_PRNG_OUT]
QRNG_OUT = [GN_QRNG_OUT, GU_QRNG_OUT, HN_QRNG_OUT, HU_QRNG_OUT, LN_QRNG_OUT, LU_QRNG_OUT, OR_QRNG_OUT, RN_QRNG_OUT, RU_QRNG_OUT, TN_QRNG_OUT]

COL_P = "#F8766D"
COL_Q = "#00BFC4"
GRID = "#DEDEDE"
BORDER = "#B3B3B3"


def to_stats(rows, outs):
    stats = []
    for i, (lo, q1, med, q3, hi) in enumerate(rows):
        fl = [v for e, v in outs if e == i + 1]
        stats.append(dict(whislo=lo, q1=q1, med=med, q3=q3, whishi=hi, fliers=fl))
    return stats


def draw_boxes(ax, rows, outs, offset, col):
    ax.bxp(to_stats(rows, outs), positions=EPOCHS + offset, widths=0.31,
           patch_artist=True, showcaps=False, manage_ticks=False,
           boxprops=dict(facecolor="white", edgecolor=col, linewidth=1.8),
           whiskerprops=dict(color=col, linewidth=1.5),
           medianprops=dict(color=col, linewidth=3.0, solid_capstyle="butt"),
           flierprops=dict(marker="o", markersize=3.0, markerfacecolor=col,
                           markeredgecolor=col, linestyle="none"))


W, H = 1661, 2076
fig = plt.figure(figsize=(W / 100, H / 100), dpi=100)

for k, name in enumerate(PANELS):
    r, c = divmod(k, 2)
    left, right = (70, 855) if c == 0 else (865, 1650)
    top, bottom = 46 + 388 * r, 387 + 388 * r
    ax = fig.add_axes([left / W, 1 - bottom / H, (right - left) / W, (bottom - top) / H])

    # strip
    sax = fig.add_axes([left / W, 1 - top / H, (right - left) / W, 36 / H])
    sax.set_facecolor(BORDER)
    sax.set_xticks([]); sax.set_yticks([])
    for s in sax.spines.values():
        s.set_visible(False)
    sax.text(0.5, 0.48, name, color="white", fontsize=12, ha="center", va="center",
             transform=sax.transAxes)

    ax.set_xlim(0.4, 30.6)
    ax.set_ylim(0.261, 1.015)
    ax.set_yticks([0.4, 0.6, 0.8, 1.0])
    ax.set_yticks([0.3, 0.5, 0.7, 0.9], minor=True)
    ax.set_xticks(EPOCHS)
    ax.grid(True, which="major", color=GRID, linewidth=1.0)
    ax.grid(True, which="minor", axis="y", color="#EBEBEB", linewidth=0.6)
    ax.set_axisbelow(True)
    for s in ax.spines.values():
        s.set_color(BORDER)
        s.set_linewidth(1.0)
    ax.tick_params(which="major", length=3, width=0.8, color=BORDER,
                   labelsize=12, labelcolor="#4D4D4D", pad=3)
    ax.tick_params(which="minor", length=0)
    if c == 0:
        ax.set_yticklabels(["0.4", "0.6", "0.8", "1.0"])
    else:
        ax.tick_params(axis="y", which="both", left=False, labelleft=False)
    if r == 4:
        ax.set_xticklabels([str(e) for e in EPOCHS])
    else:
        ax.tick_params(axis="x", bottom=False, labelbottom=False)

    draw_boxes(ax, PRNG_DATA[k], PRNG_OUT[k], -0.1875, COL_P)
    draw_boxes(ax, QRNG_DATA[k], QRNG_OUT[k], 0.1875, COL_Q)

# axis titles
fig.text(860 / W, 1 - 1977 / H, "Epoch", fontsize=15, ha="center", va="center")
fig.text(20 / W, 1 - 995 / H, "Accuracy", fontsize=15, ha="center", va="center",
         rotation=90)

# legend
ly = 2038
fig.text(757 / W, 1 - ly / H, "intializer", fontsize=15, ha="center", va="center")


def legend_key(xc, col):
    bw, bh, wh = 16, 18, 27
    fig.add_artist(Line2D([xc / W, xc / W], [1 - (ly + wh / 2) / H, 1 - (ly - wh / 2) / H],
                          color=col, linewidth=1.5, transform=fig.transFigure))
    fig.add_artist(Rectangle(((xc - bw / 2) / W, 1 - (ly + bh / 2) / H), bw / W, bh / H,
                             facecolor="white", edgecolor=col, linewidth=1.6,
                             transform=fig.transFigure))
    fig.add_artist(Line2D([(xc - bw / 2) / W, (xc + bw / 2) / W], [1 - ly / H, 1 - ly / H],
                          color=col, linewidth=2.8, solid_capstyle="butt",
                          transform=fig.transFigure))


legend_key(821, COL_P)
fig.text(847 / W, 1 - ly / H, "PRNG", fontsize=12, ha="left", va="center")
legend_key(924, COL_Q)
fig.text(951 / W, 1 - ly / H, "QRNG", fontsize=12, ha="left", va="center")

fig.savefig("out.png", dpi=100, facecolor="white")
